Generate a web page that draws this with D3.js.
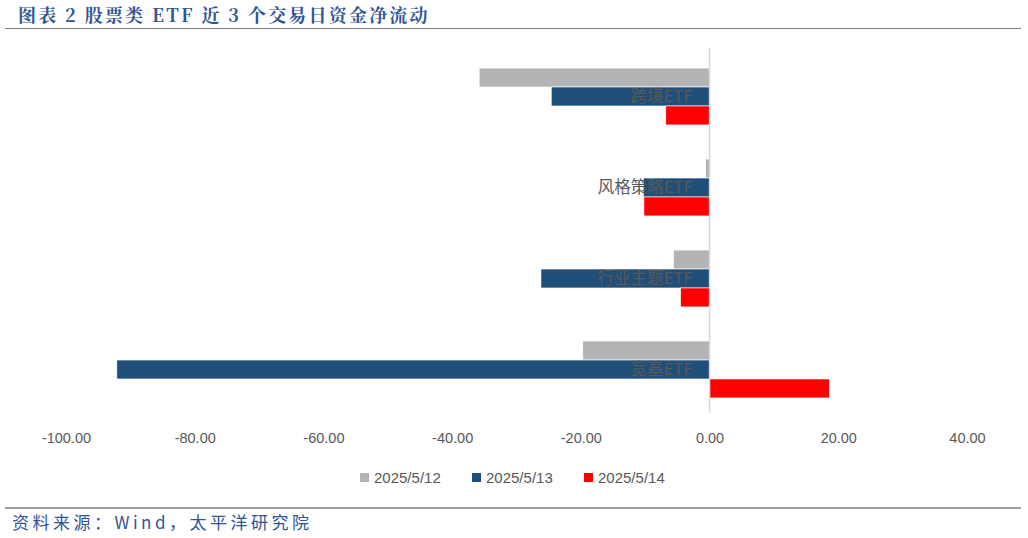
<!DOCTYPE html>
<html><head><meta charset="utf-8">
<script src="https://cdn.jsdelivr.net/npm/d3@7"></script>
<style>body{margin:0;background:#fff}svg{display:block}</style>
</head><body>
<svg id="c" width="1028" height="538"></svg>
<script>
const categories = ["跨境ETF","风格策略ETF","行业主题ETF","宽基ETF"];
const seriesNames = ["2025/5/12","2025/5/13","2025/5/14"];
const s0512 = [-35.8, -0.6, -5.6, -19.7];
const s0513 = [-24.6, -10.3, -26.2, -92.1];
const s0514 = [-6.8, -10.2, -4.5, 18.6];
const tickValues = [-100,-80,-60,-40,-20,0,20,40];
const colors = ["#b4b4b4","#1f4e79","#ff0000"];

const series = [s0512, s0513, s0514];
const svg = d3.select("#c");
const x = d3.scaleLinear().domain([-100,40]).range([66,967]);
const y = d3.scaleBand().domain(categories).range([51,415]).paddingInner(0.375).paddingOuter(0.1875);
const yi = d3.scaleBand().domain(d3.range(3)).range([0,y.bandwidth()]);

// title
svg.append("text").attr("x",18).attr("y",22).attr("fill","#2f5597")
  .attr("font-family","'Noto Serif CJK SC','Noto Sans CJK SC',serif").attr("font-weight","bold").attr("font-size",18)
  .attr("letter-spacing",2.2)
  .text("图表 2 股票类 ETF 近 3 个交易日资金净流动");
svg.append("line").attr("x1",5).attr("x2",1021).attr("y1",28.5).attr("y2",28.5).attr("stroke","#7f7f7f").attr("stroke-width",1);

// bars
categories.forEach((c,i)=>{
  series.forEach((s,j)=>{
    const v = s[i];
    svg.append("rect")
      .attr("x", x(Math.min(0,v))).attr("width", Math.abs(x(v)-x(0)))
      .attr("y", y(c)+yi(j)).attr("height", yi.bandwidth())
      .attr("fill", colors[j]).attr("stroke","#fff").attr("stroke-width",0.6);
  });
});

// zero axis line
svg.append("line").attr("x1",x(0)).attr("x2",x(0)).attr("y1",48).attr("y2",413)
  .attr("stroke","#d9d9d9").attr("stroke-width",1.5);

// category labels
categories.forEach(c=>{
  svg.append("text").attr("x",x(0)-17).attr("y",y(c)+y.bandwidth()/2).attr("dy","0.36em")
    .attr("text-anchor","end").attr("fill","#595959").attr("font-size",16.5)
    .attr("font-family","'Noto Sans CJK SC',sans-serif").text(c);
});

// x axis
const ax = svg.append("g").attr("transform","translate(0,430)")
  .call(d3.axisBottom(x).tickValues(tickValues).tickSize(0).tickFormat(d => d.toFixed(2)));
ax.select(".domain").remove();
ax.selectAll("text").attr("fill","#595959").attr("font-size",14.5).attr("font-family","'Liberation Sans',sans-serif");

// legend
const lx = [360,472,584];
seriesNames.forEach((n,j)=>{
  svg.append("rect").attr("x",lx[j]).attr("y",473).attr("width",9).attr("height",9).attr("fill",colors[j]);
  svg.append("text").attr("x",lx[j]+14).attr("y",478).attr("dy","0.35em").attr("fill","#595959")
    .attr("font-size",15).attr("font-family","'Liberation Sans',sans-serif").text(n);
});

// footer
svg.append("line").attr("x1",5).attr("x2",1021).attr("y1",508).attr("y2",508).attr("stroke","#7f7f7f").attr("stroke-width",1.5);
svg.append("text").attr("x",12).attr("y",529).attr("fill","#2f5597").attr("font-size",17)
  .attr("letter-spacing",3.5)
  .attr("font-family","'Noto Sans CJK SC',sans-serif").text("资料来源：Wind，太平洋研究院");
</script>
</body></html>
